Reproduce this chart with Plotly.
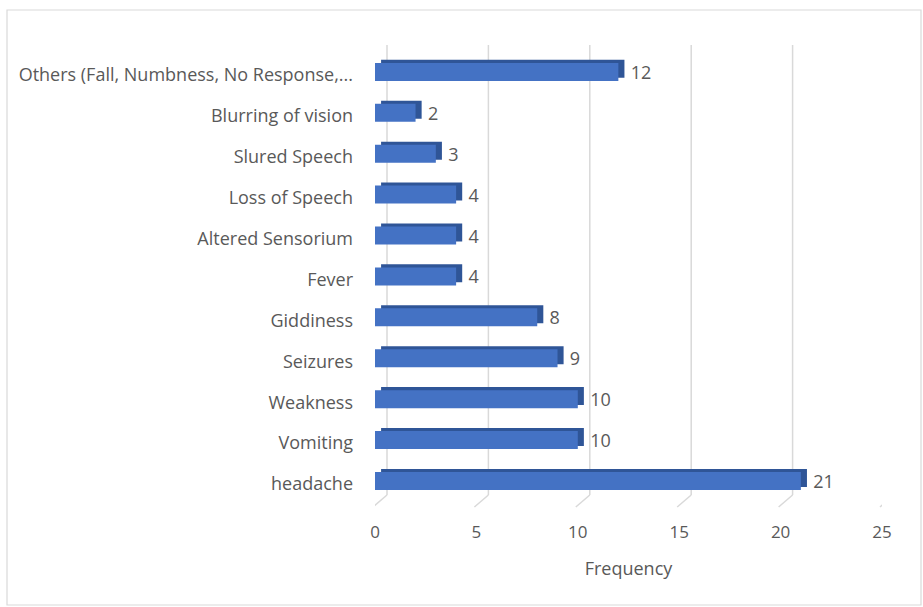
import plotly.graph_objects as go

categories = ["headache", "Vomiting", "Weakness", "Seizures", "Giddiness", "Fever",
              "Altered Sensorium", "Loss of Speech", "Slured Speech", "Blurring of vision",
              "Others (Fall, Numbness, No Response,..."]
frequency = [21, 10, 10, 9, 8, 4, 4, 4, 3, 2, 12]
x_ticks = [0, 5, 10, 15, 20, 25]

W, H = 923, 607
FRONT = "#4472C4"
DEPTH = "#2F5597"
TXT = "#595959"
GRID = "#D9D9D9"
FONT = "Open Sans"

idx = list(range(len(categories)))
LIFT = 0.075  # bars sit slightly above the label centre line

fig = go.Figure()
# depth faces (top + right) behind the front face
fig.add_trace(go.Bar(
    y=idx, x=frequency, base=0.3, orientation="h",
    width=0.44, offset=-0.22 + LIFT + 0.075,
    marker=dict(color=DEPTH, line=dict(width=0)),
    hoverinfo="skip", showlegend=False,
))
# front face
fig.add_trace(go.Bar(
    y=idx, x=frequency, orientation="h",
    width=0.44, offset=-0.22 + LIFT,
    marker=dict(color=FRONT, line=dict(width=0)),
    text=frequency, texttemplate="  %{x}", textposition="outside",
    constraintext="none",
    textfont=dict(family=FONT, size=18, color=TXT),
    cliponaxis=False, showlegend=False,
))

def py(v):
    return 1 - v / H

shapes = []
for t in x_ticks:
    # back-wall gridline
    shapes.append(dict(type="line", layer="below", xref="x", xsizemode="pixel", xanchor=t,
                       x0=12, x1=12, yref="paper", y0=py(495), y1=py(45),
                       line=dict(color=GRID, width=1.5)))
    # floor diagonal
    shapes.append(dict(type="line", layer="below", xref="x", xsizemode="pixel", xanchor=t,
                       x0=12, x1=-2, yref="paper", ysizemode="pixel", yanchor=py(495),
                       y0=0, y1=-12, line=dict(color=GRID, width=1.5)))
# chart border
shapes.append(dict(type="rect", xref="paper", yref="paper",
                   x0=7 / W, x1=921 / W, y0=py(605), y1=py(10),
                   line=dict(color=GRID, width=1.2), fillcolor="rgba(0,0,0,0)"))

fig.update_layout(
    width=W, height=H,
    margin=dict(l=0, r=0, t=0, b=0, autoexpand=False),
    paper_bgcolor="white", plot_bgcolor="rgba(0,0,0,0)",
    barmode="overlay",
    shapes=shapes,
    font=dict(family=FONT, size=18, color=TXT),
    xaxis=dict(domain=[375 / W, 882 / W], range=[0, 25], tickvals=x_ticks,
               showgrid=False, zeroline=False, showline=False, ticks="",
               ticklabelstandoff=15, tickfont=dict(size=17, color=TXT), automargin=False,
               title=dict(text="Frequency", font=dict(size=18, color=TXT), standoff=20)),
    yaxis=dict(domain=[py(504.5), py(54.5)], range=[-0.5, len(categories) - 0.5],
               tickvals=idx, ticktext=categories, automargin=False,
               showgrid=False, zeroline=False, showline=False, ticks="",
               ticklabelstandoff=21, tickfont=dict(size=18, color=TXT)),
)

fig.write_html("out.html")
